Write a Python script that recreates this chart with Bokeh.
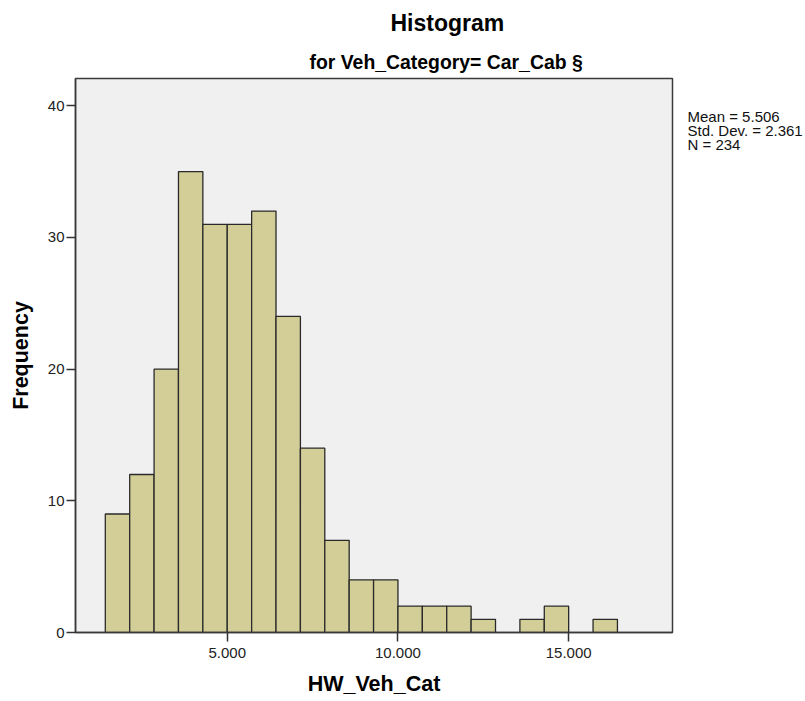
from bokeh.plotting import figure
from bokeh.models import Range1d, FixedTicker, Title, LinearAxis
from bokeh.embed import file_html
from bokeh.resources import INLINE

# ---- data ----
bin_start = 10 / 7          # first bin left edge
bin_width = 5 / 7           # SPSS bin width
counts = [9, 12, 20, 35, 31, 31, 32, 24, 14, 7, 4, 4, 2, 2, 2, 1, 0, 1, 2, 0, 1]
x_ticks = [5, 10, 15]
x_tick_labels = ["5.000", "10.000", "15.000"]
y_ticks = [0, 10, 20, 30, 40]
stats_lines = ["Mean = 5.506", "Std. Dev. = 2.361", "N = 234"]
title_text = "Histogram"
subtitle_text = "for Veh_Category= Car_Cab §"
x_label = "HW_Veh_Cat"
y_label = "Frequency"

lefts = [bin_start + i * bin_width for i in range(len(counts))]
rights = [l + bin_width for l in lefts]
sel = [i for i, c in enumerate(counts) if c > 0]

FONT = "Liberation Sans"

p = figure(width=805, height=701, output_backend="svg", toolbar_location=None,
           x_range=Range1d(0.5556, 18.041), y_range=Range1d(0, 42.07),
           min_border_left=75, min_border_right=132, min_border_top=78,
           min_border_bottom=69, title=title_text)
p.background_fill_color = "#f0f0f0"
p.border_fill_color = "white"
p.outline_line_color = "#3a3a3a"
p.outline_line_width = 1.5
p.xgrid.visible = False
p.ygrid.visible = False

# main title (outer) and subtitle (closest to the frame)
p.title.align = "left"
p.title.offset = 315
p.title.text_font = FONT
p.title.text_font_size = "23px"
p.title.text_font_style = "bold"
p.title.text_color = "black"
p.title.standoff = 15
p.add_layout(Title(text=subtitle_text, align="left", offset=234, text_font=FONT,
                   text_font_size="19.4px", text_font_style="bold",
                   text_color="black", standoff=11), "above")

p.quad(left=[lefts[i] for i in sel], right=[rights[i] for i in sel],
       bottom=0, top=[counts[i] for i in sel],
       fill_color="#d3ce97", line_color="#2a2a2a", line_width=1.3)

for ax in (p.xaxis[0], p.yaxis[0]):
    ax.axis_line_color = "#3a3a3a"
    ax.axis_line_width = 1.5
    ax.major_tick_line_color = "#333333"
    ax.major_tick_line_width = 1.5
    ax.major_tick_in = 0
    ax.major_tick_out = 9
    ax.minor_tick_line_color = None
    ax.major_label_text_font = FONT
    ax.major_label_text_font_size = "15px"
    ax.major_label_text_color = "#222222"
    ax.axis_label_text_font = FONT
    ax.axis_label_text_font_size = "21.5px"
    ax.axis_label_text_font_style = "bold"
    ax.axis_label_text_color = "black"

p.xaxis[0].ticker = FixedTicker(ticks=x_ticks)
p.xaxis[0].major_label_overrides = {t: s for t, s in zip(x_ticks, x_tick_labels)}
p.xaxis[0].major_label_standoff = 6
p.xaxis[0].axis_label = x_label
p.xaxis[0].axis_label_standoff = 11

p.yaxis[0].ticker = FixedTicker(ticks=y_ticks)
p.yaxis[0].major_label_standoff = 2
p.yaxis[0].axis_label = y_label
p.yaxis[0].axis_label_standoff = 12

# statistics box text on the right, as labels of a line-less right axis
p.extra_y_ranges = {"stats": Range1d(-34.63, 5.81)}
stat_ticks = [3, 2, 1]
stats_axis = LinearAxis(y_range_name="stats", ticker=FixedTicker(ticks=stat_ticks),
                        major_label_overrides={t: s for t, s in zip(stat_ticks, stats_lines)},
                        axis_line_color=None, major_tick_line_color=None,
                        minor_tick_line_color=None, major_tick_in=0, major_tick_out=0,
                        major_label_standoff=15, major_label_text_font=FONT,
                        major_label_text_font_size="15px",
                        major_label_text_color="#111111")
p.add_layout(stats_axis, "right")

open("out.html", "w").write(file_html(p, INLINE))
